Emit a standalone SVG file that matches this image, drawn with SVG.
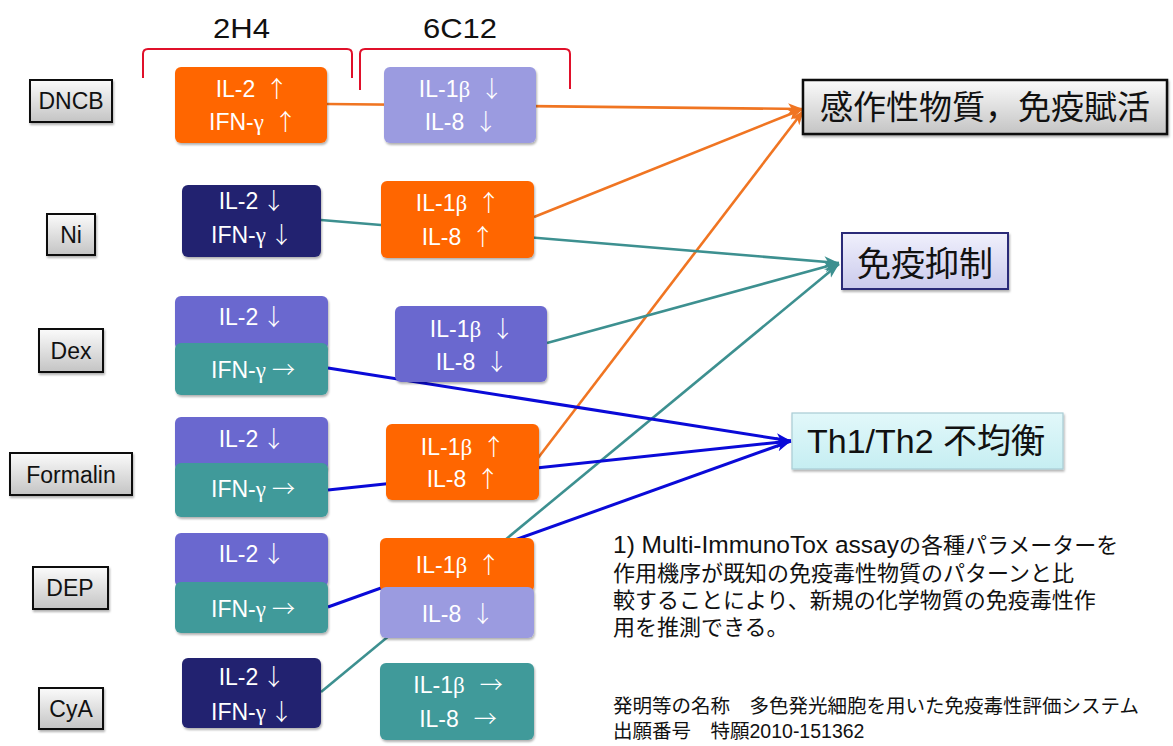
<svg xmlns="http://www.w3.org/2000/svg" width="1173" height="746" viewBox="0 0 1173 746">
<style>
.hdr{font-family:"Liberation Sans",Arial,sans-serif;font-size:28px;fill:#111}
.lbl{font-family:"Liberation Sans",Arial,sans-serif;font-size:23px;fill:#111;text-anchor:middle}
.lbox{fill:url(#gGrey);stroke:#111;stroke-width:2}
.nt{font-family:"Liberation Sans",Arial,sans-serif;font-size:23px;fill:#fff;text-anchor:middle}
.gk{font-family:"Liberation Serif","Times New Roman",serif}
.ar{font-family:"Noto Sans CJK JP",sans-serif;font-weight:300}
.or{fill:#ff6600}
.lv{fill:#9b9be0}
.nv{fill:#23236f}
.pu{fill:#6b67cf}
.te{fill:#3f9a9a}
.brk{fill:none;stroke:#e0102a;stroke-width:2}
.cn{fill:none;stroke-width:2.6}
.co{stroke:#f07522}
.ct{stroke:#3d9090}
.cb{stroke:#0a0ad8;stroke-width:3}
.jp{font-family:"Liberation Sans",Arial,"Noto Sans CJK JP",sans-serif;fill:#111}
.big{font-family:"Noto Sans CJK JP",sans-serif;fill:#111}
</style>
<defs>
<linearGradient id="gGrey" x1="0" y1="0" x2="0" y2="1"><stop offset="0" stop-color="#fbfbfb"/><stop offset="1" stop-color="#c4c4c4"/></linearGradient>
<linearGradient id="gLav" x1="0" y1="0" x2="0" y2="1"><stop offset="0" stop-color="#f0f0fc"/><stop offset="1" stop-color="#cacaec"/></linearGradient>
<linearGradient id="gCy" x1="0" y1="0" x2="0" y2="1"><stop offset="0" stop-color="#e2f8fa"/><stop offset="1" stop-color="#c6eef2"/></linearGradient>
<filter id="sh" x="-10%" y="-10%" width="125%" height="140%"><feDropShadow dx="1" dy="2" stdDeviation="1.2" flood-color="#000" flood-opacity="0.3"/></filter>
<marker id="aO" markerUnits="userSpaceOnUse" markerWidth="16" markerHeight="12" refX="15" refY="6" orient="auto"><path d="M0,0.5 L15,6 L0,11.5 L4,6 z" fill="#f07522"/></marker>
<marker id="aT" markerUnits="userSpaceOnUse" markerWidth="16" markerHeight="12" refX="15" refY="6" orient="auto"><path d="M0,0.5 L15,6 L0,11.5 L4,6 z" fill="#3d9090"/></marker>
<marker id="aB" markerUnits="userSpaceOnUse" markerWidth="16" markerHeight="12" refX="15" refY="6" orient="auto"><path d="M0,0.5 L15,6 L0,11.5 L4,6 z" fill="#0a0ad8"/></marker>
</defs>
<rect width="1173" height="746" fill="#fff"/>

<g id="headers">
<text class="hdr" x="213" y="38" textLength="57" lengthAdjust="spacingAndGlyphs">2H4</text>
<text class="hdr" x="423" y="38" textLength="74" lengthAdjust="spacingAndGlyphs">6C12</text>
<path class="brk" d="M143,78 L143,54 Q143,49 148,49 L347,49 Q352,49 352,54 L352,78"/>
<path class="brk" d="M360,90 L360,54 Q360,49 365,49 L565,49 Q570,49 570,54 L570,89"/>
</g>

<g id="connectors">
<path class="cn co" d="M327,104 L803,109" marker-end="url(#aO)"/>
<path class="cn co" d="M534,217 L803,109" marker-end="url(#aO)"/>
<path class="cn co" d="M538,458 L804,110" marker-end="url(#aO)"/>
<path class="cn ct" d="M321,220 L839,263" marker-end="url(#aT)"/>
<path class="cn ct" d="M547,343 L839,263" marker-end="url(#aT)"/>
<path class="cn ct" d="M321,692 L839,264" marker-end="url(#aT)"/>
<path class="cn cb" d="M328,368 L791,441" marker-end="url(#aB)"/>
<path class="cn cb" d="M328,490 L791,441" marker-end="url(#aB)"/>
<path class="cn cb" d="M328,607 L791,441" marker-end="url(#aB)"/>
</g>

<g id="label-dncb"><rect class="lbox" x="30" y="80" width="82" height="42" filter="url(#sh)"/><text class="lbl" x="71" y="109">DNCB</text></g>
<g id="label-ni"><rect class="lbox" x="47" y="214" width="48" height="41" filter="url(#sh)"/><text class="lbl" x="71" y="243">Ni</text></g>
<g id="label-dex"><rect class="lbox" x="39" y="329" width="64" height="43" filter="url(#sh)"/><text class="lbl" x="71" y="359">Dex</text></g>
<g id="label-formalin"><rect class="lbox" x="10" y="453" width="122" height="42" filter="url(#sh)"/><text class="lbl" x="71" y="483">Formalin</text></g>
<g id="label-dep"><rect class="lbox" x="33" y="567" width="75" height="42" filter="url(#sh)"/><text class="lbl" x="70" y="596">DEP</text></g>
<g id="label-cya"><rect class="lbox" x="39" y="688" width="64" height="41" filter="url(#sh)"/><text class="lbl" x="71" y="717">CyA</text></g>

<g id="dncb-2h4"><rect class="or" x="175" y="67" width="152" height="76" rx="6" filter="url(#sh)"/>
<text class="nt" x="252" y="97">IL-2<tspan class="ar" dx="10">↑</tspan></text>
<text class="nt" x="253" y="130">IFN-<tspan class="gk">γ</tspan><tspan class="ar" dx="10">↑</tspan></text></g>
<g id="dncb-6c12"><rect class="lv" x="384" y="67" width="152" height="76" rx="6" filter="url(#sh)"/>
<text class="nt" x="461" y="97">IL-1<tspan class="gk">β</tspan><tspan class="ar" dx="10">↓</tspan></text>
<text class="nt" x="461" y="130">IL-8<tspan class="ar" dx="10">↓</tspan></text></g>

<g id="ni-2h4"><rect class="nv" x="182" y="185" width="139" height="72" rx="6" filter="url(#sh)"/>
<text class="nt" x="252" y="209">IL-2<tspan class="ar" dx="4">↓</tspan></text>
<text class="nt" x="252" y="243">IFN-<tspan class="gk">γ</tspan><tspan class="ar" dx="4">↓</tspan></text></g>
<g id="ni-6c12"><rect class="or" x="381" y="181" width="153" height="77" rx="6" filter="url(#sh)"/>
<text class="nt" x="458" y="211">IL-1<tspan class="gk">β</tspan><tspan class="ar" dx="10">↑</tspan></text>
<text class="nt" x="458" y="245">IL-8<tspan class="ar" dx="10">↑</tspan></text></g>

<g id="dex-2h4"><rect class="pu" x="175" y="296" width="153" height="54" rx="6" filter="url(#sh)"/><rect class="te" x="175" y="343" width="153" height="52" rx="6" filter="url(#sh)"/>
<text class="nt" x="252" y="325">IL-2<tspan class="ar" dx="4">↓</tspan></text>
<text class="nt" x="253" y="378">IFN-<tspan class="gk">γ</tspan><tspan class="ar" dx="6">→</tspan></text></g>
<g id="dex-6c12"><rect class="pu" x="395" y="306" width="152" height="76" rx="6" filter="url(#sh)"/>
<text class="nt" x="472" y="337">IL-1<tspan class="gk">β</tspan><tspan class="ar" dx="10">↓</tspan></text>
<text class="nt" x="472" y="370">IL-8<tspan class="ar" dx="10">↓</tspan></text></g>

<g id="formalin-2h4"><rect class="pu" x="175" y="417" width="153" height="54" rx="6" filter="url(#sh)"/><rect class="te" x="175" y="463" width="153" height="54" rx="6" filter="url(#sh)"/>
<text class="nt" x="252" y="447">IL-2<tspan class="ar" dx="4">↓</tspan></text>
<text class="nt" x="253" y="497">IFN-<tspan class="gk">γ</tspan><tspan class="ar" dx="6">→</tspan></text></g>
<g id="formalin-6c12"><rect class="or" x="386" y="424" width="153" height="76" rx="6" filter="url(#sh)"/>
<text class="nt" x="463" y="455">IL-1<tspan class="gk">β</tspan><tspan class="ar" dx="10">↑</tspan></text>
<text class="nt" x="463" y="487">IL-8<tspan class="ar" dx="10">↑</tspan></text></g>

<g id="dep-2h4"><rect class="pu" x="175" y="533" width="153" height="54" rx="6" filter="url(#sh)"/><rect class="te" x="175" y="582" width="153" height="51" rx="6" filter="url(#sh)"/>
<text class="nt" x="252" y="562">IL-2<tspan class="ar" dx="4">↓</tspan></text>
<text class="nt" x="253" y="617">IFN-<tspan class="gk">γ</tspan><tspan class="ar" dx="6">→</tspan></text></g>
<g id="dep-6c12"><rect class="or" x="380" y="538" width="154" height="54" rx="6" filter="url(#sh)"/><rect class="lv" x="380" y="587" width="154" height="51" rx="6" filter="url(#sh)"/>
<text class="nt" x="458" y="573">IL-1<tspan class="gk">β</tspan><tspan class="ar" dx="10">↑</tspan></text>
<text class="nt" x="458" y="622">IL-8<tspan class="ar" dx="10">↓</tspan></text></g>

<g id="cya-2h4"><rect class="nv" x="182" y="658" width="139" height="70" rx="6" filter="url(#sh)"/>
<text class="nt" x="252" y="685">IL-2<tspan class="ar" dx="4">↓</tspan></text>
<text class="nt" x="252" y="720">IFN-<tspan class="gk">γ</tspan><tspan class="ar" dx="4">↓</tspan></text></g>
<g id="cya-6c12"><rect class="te" x="380" y="663" width="154" height="77" rx="6" filter="url(#sh)"/>
<text class="nt" x="458" y="693">IL-1<tspan class="gk">β</tspan><tspan class="ar" dx="15">→</tspan></text>
<text class="nt" x="458" y="727">IL-8<tspan class="ar" dx="15">→</tspan></text></g>

<g id="out-sensitizer"><rect x="803" y="80" width="364" height="54" fill="url(#gGrey)" stroke="#111" stroke-width="2.5" filter="url(#sh)"/>
<text class="big" x="985" y="119" font-size="33" text-anchor="middle">感作性物質，免疫賦活</text></g>
<g id="out-suppress"><rect x="842" y="233" width="166" height="56" fill="url(#gLav)" stroke="#2a2a78" stroke-width="2" filter="url(#sh)"/>
<text class="big" x="925" y="276" font-size="34" text-anchor="middle">免疫抑制</text></g>
<g id="out-th"><rect x="792" y="413" width="271" height="56" fill="url(#gCy)" stroke="#a8ccd4" stroke-width="1.2" filter="url(#sh)"/>
<text class="jp" x="807" y="453" font-size="34">Th1/Th2 不均衡</text></g>

<g id="notes">
<text class="jp" font-size="22"><tspan x="613" y="553" font-size="24.5">1) Multi-ImmunoTox assay</tspan><tspan>の各種パラメーターを</tspan><tspan x="613" y="581">作用機序が既知の免疫毒性物質のパターンと比</tspan><tspan x="613" y="608">較することにより、新規の化学物質の免疫毒性作</tspan><tspan x="613" y="635">用を推測できる。</tspan></text>
<text class="jp" font-size="19.5"><tspan x="613" y="713">発明等の名称　多色発光細胞を用いた免疫毒性評価システム</tspan><tspan x="613" y="738">出願番号　特願2010-151362</tspan></text>
</g>
</svg>
